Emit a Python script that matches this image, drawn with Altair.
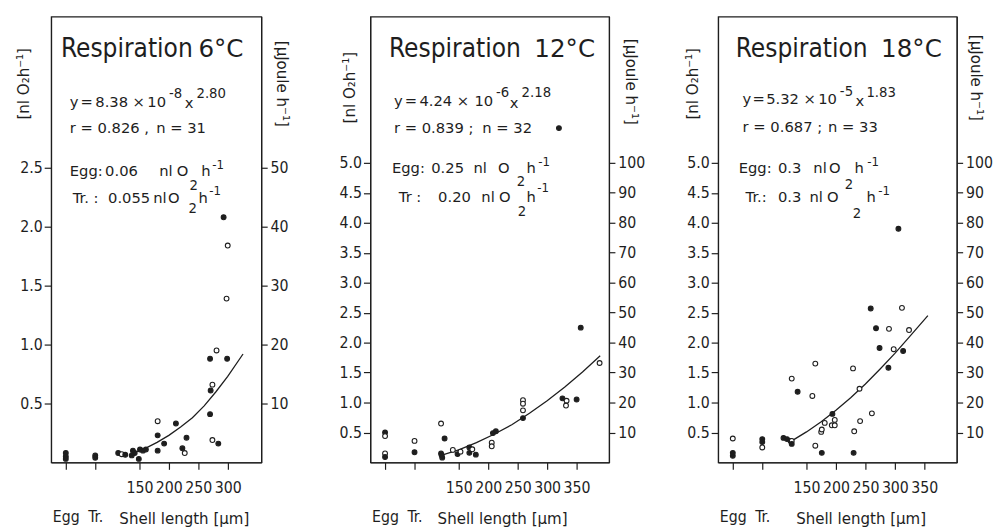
import altair as alt
import pandas as pd

FONT = "DejaVu Sans Condensed"
TFONT = "DejaVu Sans"
INK = "#1e1e1e"

# ---------------- data ----------------
# 6 °C  (Egg plotted at 25, Tr. at 75 on the length axis)
p1_len = [25, 25, 25, 75, 75,
          114, 120, 126, 137, 139, 142, 149, 151, 156, 161,
          181, 181, 181, 192, 212, 223, 227, 230,
          270, 281, 299, 274, 271, 270, 274, 284,
          298, 300, 293]
p1_resp = [0.08, 0.05, 0.03, 0.06, 0.04,
           0.08, 0.07, 0.065, 0.06, 0.10, 0.08, 0.03, 0.11, 0.10, 0.11,
           0.35, 0.23, 0.10, 0.16, 0.33, 0.12, 0.08, 0.21,
           0.88, 0.95, 0.88, 0.66, 0.61, 0.41, 0.19, 0.16,
           1.39, 1.84, 2.08]
p1_kind = ["f", "f", "f", "f", "f",
           "f", "o", "f", "f", "f", "f", "f", "f", "f", "f",
           "o", "f", "f", "f", "f", "f", "o", "f",
           "f", "o", "f", "o", "f", "f", "o", "f",
           "o", "o", "f"]
c1_len = [140, 160, 180, 200, 220, 240, 260, 280, 300, 326]
c1_resp = [0.08, 0.12, 0.17, 0.23, 0.30, 0.38, 0.48, 0.60, 0.73, 0.92]

# 12 °C
p2_len = [25, 25, 25, 25, 75, 75,
          120, 126, 120, 121, 122,
          140, 148, 153, 168, 168, 173, 179,
          206, 206, 208, 213,
          259, 259, 259, 259,
          326, 333, 332, 350,
          357, 389, 320]
p2_resp = [0.50, 0.44, 0.15, 0.09, 0.36, 0.17,
           0.65, 0.40, 0.15, 0.12, 0.08,
           0.21, 0.14, 0.18, 0.25, 0.16, 0.22, 0.13,
           0.33, 0.27, 0.49, 0.52,
           1.04, 0.98, 0.87, 0.74,
           1.07, 1.03, 0.95, 1.05,
           2.25, 1.66, 5.58]
p2_kind = ["f", "o", "o", "f", "o", "f",
           "o", "f", "f", "f", "f",
           "o", "f", "o", "f", "f", "o", "f",
           "o", "o", "f", "f",
           "o", "o", "o", "f",
           "f", "o", "o", "f",
           "f", "o", "f"]
c2_len = [120, 150, 180, 210, 240, 270, 300, 330, 360, 390]
c2_resp = [0.12, 0.21, 0.33, 0.47, 0.63, 0.82, 1.03, 1.26, 1.51, 1.78]

# 18 °C
p3_len = [25, 25, 25, 75, 75, 75,
          111, 117, 123, 125, 125,
          125, 135, 165, 160, 165, 176,
          175, 176, 181, 194, 193, 198, 198,
          229, 231, 230, 241, 240, 261,
          259, 268, 274, 290, 298, 289,
          312, 324, 314, 306]
p3_resp = [0.40, 0.16, 0.11, 0.39, 0.34, 0.25,
           0.41, 0.39, 0.36, 0.36, 0.31,
           1.40, 1.18, 1.65, 1.11, 0.28, 0.16,
           0.51, 0.55, 0.66, 0.81, 0.62, 0.62, 0.71,
           1.57, 0.52, 0.16, 0.69, 1.23, 0.82,
           2.57, 2.24, 1.91, 2.23, 1.89, 1.58,
           2.58, 2.21, 1.86, 3.90]
p3_kind = ["o", "f", "f", "f", "f", "o",
           "f", "f", "f", "o", "f",
           "o", "f", "o", "o", "o", "f",
           "o", "o", "o", "f", "o", "o", "o",
           "o", "o", "f", "o", "o", "o",
           "f", "f", "f", "o", "o", "f",
           "o", "o", "f", "f"]
c3_len = [125, 150, 175, 200, 225, 250, 275, 300, 325, 356]
c3_resp = [0.36, 0.51, 0.68, 0.87, 1.08, 1.31, 1.56, 1.82, 2.10, 2.45]

# axis tick values
x_ticks_1 = [25, 75, 150, 200, 250, 300]
x_ticks_23 = [25, 75, 150, 200, 250, 300, 350]
y_ticks_1 = [0.5, 1.0, 1.5, 2.0, 2.5]
y_ticks_23 = [0.5, 1.0, 1.5, 2.0, 2.5, 3.0, 3.5, 4.0, 4.5, 5.0]
r_ticks_1 = [10, 20, 30, 40, 50]
r_ticks_23 = [10, 20, 30, 40, 50, 60, 70, 80, 90, 100]

ONE = alt.Data(values=[{"k": 0}])
MAIN = 15
SUP = 13.5
SUP1 = 12
BIG = 26.5
TEMP = 25


def txt(s, x, y, size=MAIN, font=TFONT):
    return alt.Chart(ONE).mark_text(
        text=s, align="left", baseline="alphabetic", font=font,
        fontSize=size, color=INK
    ).encode(x=alt.value(x), y=alt.value(y))


def panel(lens, resps, kinds, clen, cresp, xmax, ymax, xticks, yticks, rticks,
          width, notes, tx, ltx, lty, rtx, rty):
    pts = pd.DataFrame({"len": lens, "resp": resps, "kind": kinds})
    crv = pd.DataFrame({"len": clen, "resp": cresp})
    x_enc = alt.X(
        "len:Q",
        scale=alt.Scale(domain=[0, xmax], nice=False, zero=False),
        axis=alt.Axis(
            values=xticks, format="d",
            labelExpr="datum.value == 25 ? 'Egg' : datum.value == 75 ? 'Tr.' : datum.label",
            labelPadding={"condition": {"test": "datum.value < 100", "value": 40}, "value": 11},
            labelOverlap=False, labelFlush=False, tickSize=7,
            title="Shell length [µm]", titleX=tx, titleY=62, titleAlign="left",
            titleBaseline="alphabetic",
        ),
    )
    y_enc = alt.Y(
        "resp:Q",
        scale=alt.Scale(domain=[0, ymax], nice=False),
        axis=alt.Axis(
            values=yticks, format=".1f", tickSize=7, labelPadding=2,
            title="[nl O₂h⁻¹]", titleAngle=270, titleX=ltx, titleY=lty,
            titleAlign="center", titleBaseline="middle",
        ),
    )
    curve = alt.Chart(crv).mark_line(color=INK, strokeWidth=1.3).encode(x=x_enc, y=y_enc)
    dots = alt.Chart(pts).mark_point(shape="circle", size=24, strokeWidth=1.1, opacity=1).encode(
        x=x_enc, y=y_enc,
        fill=alt.Fill("kind:N", scale=alt.Scale(domain=["f", "o"], range=[INK, "#ffffff"]), legend=None),
        stroke=alt.value(INK),
    )
    inner = alt.layer(curve, dots, *[txt(*n) for n in notes])
    right = alt.Chart(pd.DataFrame({"uj": rticks})).mark_point(opacity=0).encode(
        y=alt.Y(
            "uj:Q",
            scale=alt.Scale(domain=[0, ymax * 20], nice=False),
            axis=alt.Axis(
                orient="right", values=rticks, format="d", tickSize=6, labelPadding=3,
                title="[µJoule h⁻¹]", titleAngle=90, titleX=rtx, titleY=rty,
                titleAlign="center", titleBaseline="middle",
            ),
        )
    )
    return alt.layer(inner, right).resolve_scale(y="independent").properties(width=width, height=454)


notes1 = [
    ("Respiration", 10, 41, BIG, FONT), ("6°C", 150, 41, TEMP),
    ("y", 19, 92), ("=", 30, 92), ("8.38", 45, 92), ("×", 83, 92), ("10", 98, 92),
    ("-8", 120, 83, SUP), ("x", 136, 93), ("2.80", 148, 83, SUP),
    ("r = 0.826 ,", 19, 119), ("n = 31", 107, 119),
    ("Egg:", 19, 162), ("0.06", 55, 162), ("nl", 110, 162), ("O", 128, 162), ("2", 141, 177, SUP),
    ("h", 153, 162), ("-1", 164, 155, SUP1),
    ("Tr. :", 22, 190), ("0.055", 58, 190), ("nl", 104, 190), ("O", 119, 190), ("2", 140, 200, SUP),
    ("h", 150, 190), ("-1", 161, 182, SUP1),
]
notes2 = [
    ("Respiration", 19, 41, BIG, FONT), ("12°C", 167, 41, TEMP),
    ("y", 24, 91), ("=", 35, 91), ("4.24", 50, 91), ("×", 88, 91), ("10", 106, 91),
    ("-6", 128, 82, SUP), ("x", 142, 93), ("2.18", 154, 82, SUP),
    ("r = 0.839 ;", 24, 119), ("n = 32", 114, 119),
    ("Egg:", 22, 159), ("0.25", 62, 159), ("nl", 105, 159), ("O", 130, 159), ("2", 149, 173, SUP),
    ("h", 159, 159), ("-1", 171, 152, SUP1),
    ("Tr :", 29, 189), ("0.20", 69, 189), ("nl", 113, 189), ("O", 131, 189), ("2", 150, 203, SUP),
    ("h", 159, 189), ("-1", 170, 179, SUP1),
]
notes3 = [
    ("Respiration", 18, 41, BIG, FONT), ("18°C", 166, 41, TEMP),
    ("y", 25, 89), ("=", 35, 89), ("5.32", 49, 89), ("×", 87, 89), ("10", 102, 89),
    ("-5", 124, 81, SUP), ("x", 140, 91), ("1.83", 151, 82, SUP),
    ("r = 0.687 ;", 25, 118), ("n = 33", 112, 118),
    ("Egg:", 21, 159), ("0.3", 61, 159), ("nl", 97, 159), ("O", 113, 159), ("2", 129, 176, SUP),
    ("h", 139, 159), ("-1", 152, 152, SUP1),
    ("Tr.:", 28, 189), ("0.3", 61, 189), ("nl", 93, 189), ("O", 111, 189), ("2", 137, 205, SUP),
    ("h", 151, 189), ("-1", 163, 182, SUP1),
]

panel1 = panel(p1_len, p1_resp, p1_kind, c1_len, c1_resp, 357, 454 / 120, x_ticks_1, y_ticks_1,
               r_ticks_1, 214, notes1, 69, -28, 68, 20, 68)
panel2 = panel(p2_len, p2_resp, p2_kind, c2_len, c2_resp, 405, 454 / 61, x_ticks_23, y_ticks_23,
               r_ticks_23, 243, notes2, 68, -21, 72, 22, 66)
panel3 = panel(p3_len, p3_resp, p3_kind, c3_len, c3_resp, 405, 454 / 61, x_ticks_23, y_ticks_23,
               r_ticks_23, 243, notes3, 79, -26, 68, 19, 62)

chart = alt.hconcat(panel1, panel2, panel3, spacing=111, bounds="flush").properties(
    padding={"left": 14, "top": 11, "right": 5, "bottom": 0}
).configure_view(
    stroke=INK, strokeWidth=1.2
).configure_axis(
    grid=False, domainColor=INK, domainWidth=1.2, tickColor=INK, tickWidth=1.2,
    labelColor=INK, titleColor=INK, labelFont=FONT, titleFont=FONT,
    labelFontSize=16, titleFontSize=17, titleFontWeight="normal",
)

chart.save("out.html", embed_options={"renderer": "svg", "actions": False})
